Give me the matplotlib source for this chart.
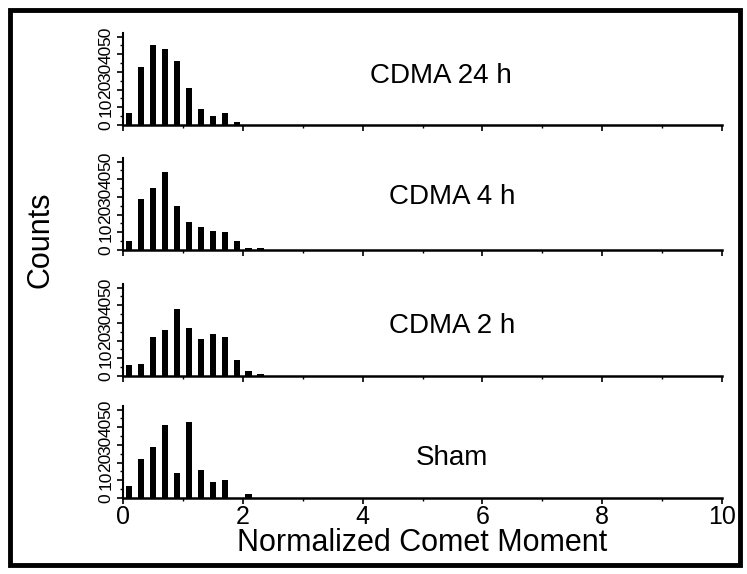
import matplotlib.pyplot as plt
from matplotlib.patches import Rectangle
from matplotlib.ticker import MultipleLocator

plt.rcParams['font.family'] = ['Liberation Sans', 'DejaVu Sans']
narrow = ['Liberation Sans Narrow', 'Liberation Sans', 'DejaVu Sans']

# bin centres of the normalized comet moment histogram
bin_centers = [0.1, 0.3, 0.5, 0.7, 0.9, 1.1, 1.3, 1.5, 1.7, 1.9, 2.1, 2.3]

counts_24h = [7, 33, 45, 43, 36, 21, 9, 5, 7, 1.5, 0, 0]
counts_4h = [5, 29, 35, 44, 25, 16, 13, 11, 10, 5, 1, 1]
counts_2h = [6, 7, 22, 26, 38, 27, 21, 24, 22, 9, 3, 1]
counts_sham = [7, 22, 29, 41, 14, 43, 16, 9, 10, 0, 2, 0]

panel_names = ['CDMA 24 h', 'CDMA 4 h', 'CDMA 2 h', 'Sham']
panel_counts = [counts_24h, counts_4h, counts_2h, counts_sham]
yticks = [0, 10, 20, 30, 40, 50]
xticks = [0, 2, 4, 6, 8, 10]

W, H = 747, 574
fig = plt.figure(figsize=(W / 100, H / 100), dpi=100)

# frame round the whole figure
fig.patches.append(Rectangle((10 / W, 9 / H), 730 / W, 555 / H,
                             transform=fig.transFigure, fill=False,
                             edgecolor='black', linewidth=3.5))

baselines = [125, 250, 376, 498]   # pixel rows of the x axes
label_pos = [(5.3, 27.7), (5.5, 30), (5.5, 28.2), (5.5, 22.6)]
left = 123 / W
width = 599 / W
height = 92 / H

for i in range(4):
    ax = fig.add_axes([left, 1 - baselines[i] / H, width, height])
    ax.bar(bin_centers, panel_counts[i], width=0.11, color='black')
    ax.set_xlim(0, 10)
    ax.set_ylim(0, 52)
    ax.spines['top'].set_visible(False)
    ax.spines['right'].set_visible(False)
    ax.spines['left'].set_linewidth(1.5)
    ax.spines['bottom'].set_linewidth(1.8)
    ax.set_yticks(yticks)
    ax.set_yticklabels([str(v) for v in yticks], rotation=90, va='center',
                       fontsize=12.5, family=narrow)
    ax.yaxis.set_minor_locator(MultipleLocator(5))
    ax.set_xticks(xticks)
    ax.xaxis.set_minor_locator(MultipleLocator(1))
    ax.tick_params(axis='both', which='major', length=4, width=1.2, pad=1)
    ax.tick_params(axis='both', which='minor', length=2, width=1)
    ax.tick_params(axis='y', pad=3)
    if i < 3:
        ax.set_xticklabels([])
    else:
        ax.set_xticklabels([str(v) for v in xticks], fontsize=18, family=narrow)
    ax.text(label_pos[i][0], label_pos[i][1], panel_names[i], fontsize=20,
            ha='center', va='center', family=narrow)
    ax.patch.set_alpha(0)

fig.text(left + width / 2, 1 - 543 / H, 'Normalized Comet Moment',
         fontsize=22, ha='center', va='center')
fig.text(40 / W, 1 - 240 / H, 'Counts', fontsize=22, rotation=90,
         ha='center', va='center')

fig.savefig('out.png', dpi=100)
